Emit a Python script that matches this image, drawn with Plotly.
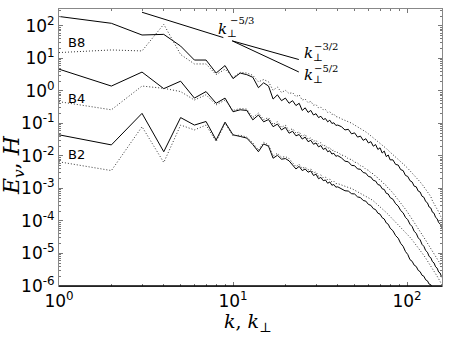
import numpy as np
import plotly.graph_objects as go

# wavenumbers (integer k up to 40, then every 2nd / 3rd)
k = list(range(1, 41)) + list(range(42, 81, 2)) + list(range(83, 162, 3))

# log10 of spectra
b8_solid = [2.29, 2.08, 1.72, 1.74, 1.38, 0.95, 0.95, 0.55, 0.78, 0.38,
            0.55, 0.50, 0.42, 0.10, 0.25, 0.15, -0.25, -0.12, -0.30, -0.22,
            -0.38, -0.30, -0.45, -0.38, -0.60, -0.52, -0.66, -0.60, -0.74, -0.70,
            -0.82, -0.78, -0.88, -0.85, -0.95, -0.90, -1.00, -0.98, -1.06, -1.05,
            -1.10, -1.20, -1.18, -1.32, -1.29, -1.42, -1.39, -1.52, -1.47, -1.60,
            -1.56, -1.70, -1.65, -1.80, -1.75, -1.91, -1.85, -2.02, -1.97, -2.12,
            -2.12, -2.26, -2.28, -2.42, -2.45, -2.60, -2.63, -2.76, -2.80, -2.93,
            -2.95, -3.08, -3.11, -3.24, -3.27, -3.40, -3.44, -3.57, -3.60, -3.73,
            -3.76, -3.89, -3.93, -4.05, -4.09, -4.21, -4.26]
b8_dot = [1.18, 1.26, 1.23, 2.05, 1.12, 0.83, 0.83, 0.50, 0.67, 0.42,
          0.57, 0.55, 0.48, 0.28, 0.35, 0.28, 0.02, 0.12, -0.05, 0.02,
          -0.08, -0.05, -0.18, -0.12, -0.28, -0.25, -0.36, -0.32, -0.44, -0.42,
          -0.52, -0.50, -0.58, -0.57, -0.66, -0.64, -0.72, -0.71, -0.79, -0.80,
          -0.86, -0.90, -0.95, -0.99, -1.05, -1.10, -1.15, -1.21, -1.26, -1.32,
          -1.38, -1.44, -1.50, -1.55, -1.61, -1.66, -1.72, -1.77, -1.83, -1.88,
          -1.96, -2.03, -2.10, -2.17, -2.24, -2.31, -2.38, -2.45, -2.52, -2.59,
          -2.66, -2.73, -2.80, -2.87, -2.95, -3.02, -3.10, -3.17, -3.25, -3.38,
          -3.46, -3.54, -3.62, -3.72, -3.82, -3.90, -4.00]
b4_solid = [0.67, 0.15, 0.58, 0.07, 0.30, -0.22, -0.02, -0.38, -0.22, -0.64,
            -0.58, -0.60, -0.89, -0.74, -0.95, -0.88, -1.10, -1.02, -1.20, -1.12,
            -1.30, -1.24, -1.38, -1.34, -1.48, -1.42, -1.56, -1.52, -1.64, -1.60,
            -1.72, -1.68, -1.80, -1.76, -1.87, -1.84, -1.94, -1.92, -2.01, -1.99,
            -2.06, -2.16, -2.18, -2.29, -2.30, -2.40, -2.41, -2.51, -2.53, -2.63,
            -2.65, -2.75, -2.77, -2.88, -2.90, -3.01, -3.03, -3.15, -3.17, -3.28,
            -3.33, -3.47, -3.54, -3.68, -3.75, -3.89, -3.96, -4.10, -4.17, -4.32,
            -4.38, -4.52, -4.58, -4.72, -4.78, -4.91, -4.96, -5.09, -5.13, -5.25,
            -5.29, -5.41, -5.45, -5.57, -5.60, -5.72, -5.76]
b4_dot = [-0.33, -0.58, 0.15, 0.08, -0.02, -0.28, -0.12, -0.43, -0.28, -0.60,
          -0.54, -0.56, -0.82, -0.68, -0.88, -0.82, -1.03, -0.95, -1.12, -1.05,
          -1.22, -1.16, -1.30, -1.26, -1.40, -1.34, -1.48, -1.44, -1.55, -1.52,
          -1.63, -1.59, -1.70, -1.67, -1.77, -1.74, -1.84, -1.82, -1.90, -1.89,
          -1.97, -2.00, -2.09, -2.11, -2.19, -2.22, -2.30, -2.33, -2.41, -2.44,
          -2.52, -2.55, -2.63, -2.67, -2.75, -2.79, -2.87, -2.91, -3.00, -3.04,
          -3.14, -3.24, -3.34, -3.44, -3.54, -3.64, -3.74, -3.84, -3.94, -4.04,
          -4.14, -4.23, -4.32, -4.41, -4.50, -4.59, -4.68, -4.76, -4.84, -4.92,
          -5.00, -5.08, -5.16, -5.24, -5.32, -5.40, -5.48]
b2_solid = [-1.35, -1.66, -0.69, -1.87, -0.82, -1.05, -0.94, -1.51, -0.96, -1.35,
            -1.40, -1.45, -1.65, -1.87, -1.63, -1.70, -2.07, -1.98, -2.10, -2.08,
            -2.15, -2.28, -2.40, -2.32, -2.45, -2.40, -2.50, -2.46, -2.60, -2.56,
            -2.70, -2.66, -2.76, -2.74, -2.84, -2.80, -2.90, -2.88, -2.96, -2.95,
            -3.00, -3.07, -3.08, -3.16, -3.17, -3.26, -3.28, -3.37, -3.39, -3.49,
            -3.52, -3.62, -3.65, -3.76, -3.79, -3.90, -3.94, -4.06, -4.10, -4.22,
            -4.30, -4.45, -4.53, -4.69, -4.78, -4.94, -5.03, -5.19, -5.24, -5.36,
            -5.40, -5.52, -5.56, -5.67, -5.70, -5.81, -5.84, -5.94, -5.96, -6.06,
            -6.10, -6.16, -6.22, -6.28, -6.34, -6.40, -6.46]
b2_dot = [-2.18, -2.45, -1.10, -2.20, -1.05, -1.20, -1.05, -1.56, -1.00, -1.38,
          -1.36, -1.42, -1.60, -1.82, -1.58, -1.66, -2.00, -1.92, -2.04, -2.02,
          -2.08, -2.22, -2.33, -2.26, -2.38, -2.34, -2.43, -2.40, -2.52, -2.49,
          -2.62, -2.58, -2.67, -2.65, -2.74, -2.71, -2.80, -2.78, -2.85, -2.85,
          -2.90, -2.93, -2.97, -3.00, -3.05, -3.09, -3.14, -3.18, -3.23, -3.28,
          -3.33, -3.38, -3.44, -3.50, -3.56, -3.62, -3.68, -3.74, -3.80, -3.86,
          -3.94, -4.02, -4.10, -4.18, -4.26, -4.34, -4.42, -4.50, -4.58, -4.66,
          -4.74, -4.82, -4.90, -4.98, -5.06, -5.14, -5.22, -5.30, -5.38, -5.46,
          -5.54, -5.62, -5.70, -5.78, -5.86, -5.94, -6.02]

# reference power laws: (k range, amplitude at first k, exponent)
slope_53 = ([3.0, 8.8], 10 ** 2.42, -5 / 3)
slope_32 = ([9.9, 23.9], 10 ** 1.54, -3 / 2)
slope_52 = ([9.9, 23.9], 10 ** 1.54, -5 / 2)

x_decades = [0, 1, 2]
y_decades = [-6, -5, -4, -3, -2, -1, 0, 1, 2]

series = [
    (b8_solid, 'solid'), (b8_dot, 'dot'),
    (b4_solid, 'solid'), (b4_dot, 'dot'),
    (b2_solid, 'solid'), (b2_dot, 'dot'),
]

fig = go.Figure()

for vals, dash in series:
    if dash == 'solid':
        line = dict(color='black', width=1)
    else:
        line = dict(color='#333333', width=1, dash='1px,2px')
    fig.add_trace(go.Scatter(x=k, y=10 ** np.array(vals), mode='lines',
                             line=line, showlegend=False))

for kr, amp, p in [slope_53, slope_32, slope_52]:
    kk = np.array(kr)
    fig.add_trace(go.Scatter(
        x=kk, y=amp * (kk / kk[0]) ** p, mode='lines',
        line=dict(color='black', width=1), showlegend=False
    ))


# plot area on screen: x 59..442, y 9..286
def px(xp, yp):
    return (xp - 59) / 383, (286 - yp) / 277


serif = 'DejaVu Serif'
annots = []


def note(xp, yp, text, **kw):
    xx, yy = px(xp, yp)
    d = dict(x=xx, y=yy, xref='paper', yref='paper', text=text, showarrow=False,
             xanchor='center', yanchor='middle')
    d.update(kw)
    annots.append(d)


for label, yp in [('B8', 42), ('B4', 98), ('B2', 154)]:
    note(66, yp, label, xanchor='left',
         font=dict(family='DejaVu Sans', size=13, color='black'))

for kx, ky, ex, ey, sup in [(216, 30, 228, 21, '−5/3'), (302, 54, 312, 46, '−3/2'),
                            (302, 75, 312, 68, '−5/2')]:
    note(kx, ky, '<i>k</i><sub>⊥</sub>', xanchor='left',
         font=dict(family=serif, size=15, color='black'))
    note(ex, ey, sup, xanchor='left',
         font=dict(family=serif, size=10, color='black'))

note(248, 322, '<i>k</i>, <i>k</i><sub>⊥</sub>', font=dict(family=serif, size=19, color='black'))
note(13, 165, '<i>E</i><sub><i>v</i></sub>, <i>H</i>', textangle=-90,
     font=dict(family=serif, size=22, color='black'))


def minor_vals(decades):
    return [m * 10 ** d for d in decades for m in range(2, 10)]


axis_common = dict(
    type='log', showgrid=False, zeroline=False, automargin=False,
    ticks='inside', ticklen=4, tickcolor='#777777', showline=True,
    linecolor='#888888', linewidth=1, mirror='allticks',
    tickfont=dict(family='DejaVu Sans', size=17, color='black'),
)

fig.update_layout(
    template='none',
    width=452, height=339,
    margin=dict(l=59, r=10, t=9, b=53),
    plot_bgcolor='white', paper_bgcolor='white',
    xaxis=dict(range=[0, np.log10(158.9)],
               tickvals=[10 ** d for d in x_decades],
               ticktext=[f'10<sup>{d}</sup>' for d in x_decades],
               minor=dict(ticks='inside', ticklen=2, tickcolor='#777777',
                          tickvals=minor_vals(x_decades), showgrid=False),
               **axis_common),
    yaxis=dict(range=[-6, 2.52],
               tickvals=[10 ** d for d in y_decades],
               ticktext=[f'10<sup>{d}</sup>' for d in y_decades],
               minor=dict(ticks='inside', ticklen=2, tickcolor='#777777',
                          tickvals=minor_vals(y_decades), showgrid=False),
               **axis_common),
    annotations=annots,
    shapes=[dict(type='line', xref='paper', yref='paper', x0=0, x1=1, y0=0, y1=0,
                 line=dict(color='black', width=1.5))],
)

# drop the default page margin so the figure sits at the window corner
fig.write_html("out.html", config={'displayModeBar': False},
               post_script="document.body.style.margin='0';")
